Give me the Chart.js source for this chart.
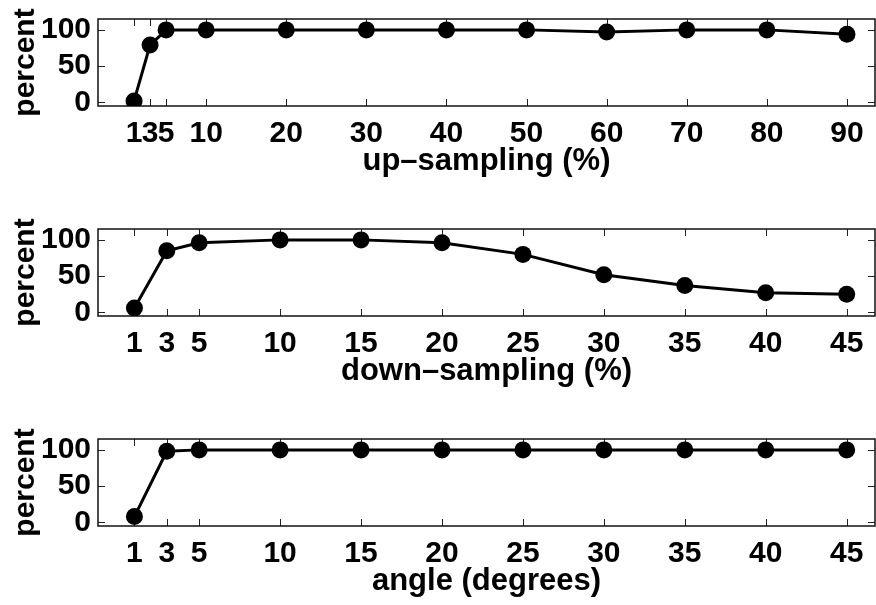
<!DOCTYPE html>
<html>
<head>
<meta charset="utf-8">
<script src="https://cdn.jsdelivr.net/npm/chart.js@4"></script>
<style>
  body { margin: 0; background: #fff; }
  #wrap { position: relative; width: 876px; height: 605px; overflow: hidden; }
  canvas { position: absolute; left: 0; }
</style>
</head>
<body>
<div id="wrap">
  <canvas id="upChart" width="876" height="185" style="top:0px"></canvas>
  <canvas id="downChart" width="876" height="185" style="top:210px"></canvas>
  <canvas id="angleChart" width="876" height="185" style="top:420px"></canvas>
</div>
<script>
// data
const upX = [1, 3, 5, 10, 20, 30, 40, 50, 60, 70, 80, 90];
const upVals = [2, 79, 100, 100, 100, 100, 100, 100, 97, 100, 100, 94];

const downX = [1, 3, 5, 10, 15, 20, 25, 30, 35, 40, 45];
const downVals = [6, 85, 96, 100, 100, 96, 80, 52, 37, 27, 25];

const angleX = [1, 3, 5, 10, 15, 20, 25, 30, 35, 40, 45];
const angleVals = [8, 98, 100, 100, 100, 100, 100, 100, 100, 100, 100];

const yTicks = [0, 50, 100];

const FONT = "'Liberation Sans', Arial, sans-serif";

// matlab style box with inward ticks
const boxTicks = {
  id: "boxTicks",
  beforeDatasetsDraw(chart) {
    const { ctx, chartArea: a, scales } = chart;
    const len = 7;
    ctx.save();
    ctx.strokeStyle = "#222";
    ctx.lineWidth = 1;
    ctx.beginPath();
    scales.x.ticks.forEach(t => {
      const px = Math.round(scales.x.getPixelForValue(t.value)) + 0.5;
      ctx.moveTo(px, a.bottom); ctx.lineTo(px, a.bottom - len);
      ctx.moveTo(px, a.top); ctx.lineTo(px, a.top + len);
    });
    scales.y.ticks.forEach(t => {
      const py = Math.round(scales.y.getPixelForValue(t.value)) + 0.5;
      ctx.moveTo(a.left, py); ctx.lineTo(a.left + len, py);
      ctx.moveTo(a.right, py); ctx.lineTo(a.right - len, py);
    });
    ctx.stroke();
    ctx.lineWidth = 1.5;
    ctx.strokeStyle = "#111";
    ctx.strokeRect(a.left, a.top, a.right - a.left, a.bottom - a.top);
    ctx.restore();
  }
};

function makeChart(id, xs, vals, xMin, xMax, xTitle) {
  const canvas = document.getElementById(id);
  const H = canvas.height;
  return new Chart(canvas, {
    type: "line",
    data: {
      datasets: [{
        data: xs.map((x, i) => ({ x: x, y: vals[i] })),
        borderColor: "#000",
        backgroundColor: "#000",
        borderWidth: 3,
        pointRadius: 8.5,
        pointBackgroundColor: "#000",
        pointBorderWidth: 0,
        tension: 0
      }]
    },
    options: {
      responsive: false,
      animation: false,
      layout: { autoPadding: false, padding: { top: 19, right: 1, left: 0, bottom: 0 } },
      plugins: { legend: { display: false }, tooltip: { enabled: false } },
      scales: {
        x: {
          type: "linear",
          min: xMin,
          max: xMax,
          grid: { display: false, drawTicks: false },
          border: { display: false },
          afterBuildTicks: s => { s.ticks = xs.map(v => ({ value: v })); },
          afterFit: s => { s.height = H - 19 - 87; s.paddingLeft = 0; s.paddingRight = 0; },
          ticks: {
            autoSkip: false,
            maxRotation: 0,
            padding: 10,
            color: "#000",
            font: { family: FONT, size: 30, weight: "bold" }
          },
          title: {
            display: true,
            text: xTitle,
            color: "#000",
            padding: { top: 0, bottom: 5 },
            font: { family: FONT, size: 31, weight: "bold" }
          }
        },
        y: {
          min: -5,
          max: 115,
          grid: { display: false, drawTicks: false },
          border: { display: false },
          afterBuildTicks: s => { s.ticks = yTicks.map(v => ({ value: v })); },
          afterFit: s => { s.width = 98; s.paddingTop = 0; s.paddingBottom = 0; },
          ticks: {
            padding: 7,
            color: "#000",
            font: { family: FONT, size: 30, weight: "bold" }
          },
          title: {
            display: true,
            text: "percent",
            color: "#000",
            padding: { top: 8, bottom: 0 },
            font: { family: FONT, size: 30, weight: "bold" }
          }
        }
      }
    },
    plugins: [boxTicks]
  });
}

makeChart("upChart", upX, upVals, -3.5, 93.5, "up\u2013sampling (%)");
makeChart("downChart", downX, downVals, -1.25, 46.75, "down\u2013sampling (%)");
makeChart("angleChart", angleX, angleVals, -1.25, 46.75, "angle (degrees)");
</script>
</body>
</html>
